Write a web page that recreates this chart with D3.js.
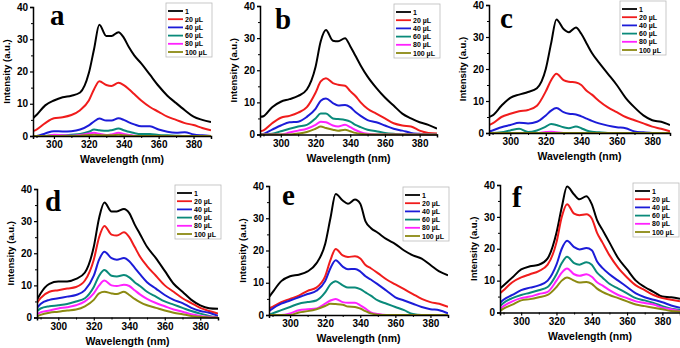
<!DOCTYPE html>
<html><head><meta charset="utf-8">
<script src="https://cdn.jsdelivr.net/npm/d3@7"></script>
<style>html,body{margin:0;padding:0;background:#fff;}svg{display:block;}</style>
</head><body>
<script>
// ---- DATA ----
const wl = [288,290,295,300,305,310,315,320,323,326,330,333,337,340,343,346,350,355,360,365,370,375,380,385,390];
const seriesNames = ["1","20 µL","40 µL","60 µL","80 µL","100 µL"];
const panelLetters = ["a","b","c","d","e","f"];
const xTicks = [300,320,340,360,380];
const yTicks = [0,10,20,30,40];

const panelA = [
  [5.5,6.5,9.5,11,12,12.5,13.5,19.5,27,34.5,31,31,32.2,30.5,27.5,25,22.5,19,15.5,12.5,10.2,8,6,5,4.3],
  [1.5,2,4,5.5,5.8,6.5,8,11,14.5,17,15.8,15.5,16.5,15.8,14.5,13,11,9,7.5,6,5,4,3.4,2.5,1.8],
  [0,0,0.8,1.5,1.4,1.5,2,3.3,4.5,5.4,4.8,4.8,5.5,5,4.2,3.6,3,3,2,1.3,1,1.2,0.5,0.2,0],
  [0,0,0,0.3,0.2,0.4,0.6,1.3,2,1.8,1.6,1.8,2.3,1.8,1.3,0.9,0.6,0.6,0.3,0.2,0.1,0,0,0,0],
  [0,0,0,0.4,0.2,0.1,0.3,0.8,1,0.7,0.3,0.5,1,0.6,0.3,0.1,0,0,0,0,0,0,0,0,0],
  [0,0,0,0,0,0,0.1,0.3,0.4,0.3,0.2,0.2,0.4,0.2,0.1,0,0,0,0,0,0,0,0,0,0]
];
const panelB = [
  [5.5,5.7,8.5,10.2,11,12,14,21,29,32.5,29.2,29,30,27.5,24.5,21.5,18,14.5,11.5,9,6.5,5,3.8,3,1.8],
  [1,1.3,3.5,5.2,5.8,6.8,8.5,13,16.5,17.5,16,15.5,15.2,13.5,12,10,8,6.5,5,3.5,2.8,2.5,1.2,0.5,0.3],
  [0,0.2,1.5,2.8,3.8,4,5.5,8,10.5,11.2,9.8,9,9.2,8.5,7,5.8,4.5,3.8,2.8,1.8,1.2,0.5,0.2,0,0],
  [0,0,0.2,1,1.8,2.5,3,5,6.5,6.5,5,4.8,4.5,4,3,2.3,1.5,1,0.5,0.2,0,0,0,0,0],
  [0,0,0,0,0.6,1.2,1.8,3,4,3.8,2.8,2.5,3,2.3,1.4,0.7,0.2,0,0,0,0,0,0,0,0],
  [0,0,0,0,0,0.3,0.8,1.8,2.5,2,1.5,1.2,1.5,1,0.5,0.2,0,0,0,0,0,0,0,0,0]
];
const panelC = [
  [5,5.5,8.5,11,12,12.8,14,20,28,35.5,32.5,31.5,33,31,28,25,22,18.5,15,11,8,5.5,4,3.5,2.5],
  [2.5,3,5,6,6.8,7.2,8.5,13,16.5,18.5,16.5,16,15.8,15,13.2,12,10,8,6.5,5,4,3,2,1.3,0.5],
  [0.5,0.8,1.8,2.5,3.2,3,3.5,5.5,7,7.8,6.5,6,5.8,5.2,4.5,3.8,3,2.3,1.8,1.5,0.5,0.2,0,0,0],
  [0,0,0.2,0.8,1.3,0.3,0.8,2,2.8,2.5,1.8,1.5,2,1.5,0.8,0.4,0.2,0,0,0,0,0,0,0,0],
  [0,0,0,0,0,0,0,0.3,0.4,0.2,0,0,0,0,0,0,0,0,0,0,0,0,0,0,0],
  [0,0,0,0,0,0,0,0,0,0,0,0,0,0,0,0,0,0,0,0,0,0,0,0,0]
];
const panelD = [
  [5.5,7.5,10.5,11.2,11.2,12,14,22,31,35.8,33,33,33.8,32.5,29,26,22,18.5,14.5,10.5,8,5.5,3.8,2.9,2.7],
  [4.5,6,8,8.5,9,9.5,11.5,18,25,28.5,25.8,25.5,26.5,25,22,19,16,13,10,8,6,4.5,3,2,1.2],
  [3,4.2,5.5,6,6.5,7,8.5,13,18,20.5,18.5,18,18.5,17.5,15.5,13.5,11,9,7,5.5,4.5,3,2,1.5,0.5],
  [2,2.8,3.5,3.8,4.2,5,6,9.5,13,14.8,13,12.8,13.2,12.5,11,9.8,8,6.5,5,4,3,2,1.2,0.5,0],
  [1,1.6,2.2,2.8,3.2,3.8,5,7.5,10,11.5,10,9.8,10.2,9.8,8.5,7.2,5.8,4.5,3.5,2.5,1.8,1,0.5,0.2,0],
  [0.3,0.8,1.5,1.8,2.2,2.5,3.5,5.5,7.5,8,7.5,7.3,8,7,5.8,4.8,3.8,3,2.2,1.5,1,0.5,0.2,0,0]
];
const panelE = [
  [5.5,7,10.5,12,12.5,13.5,16,22,30,37.5,35.5,34.5,35.8,34.5,29,27,25.5,23.5,22,20,18.5,17.5,15.5,13.5,12.3],
  [2,2.5,4,5,6,7.5,8.5,12,17,20.5,18.5,18,18.2,17.5,15.5,14.5,13,11,9.5,8,6.5,5,4,3.5,2.5],
  [1.2,2,3.5,4.5,5.5,6.5,7.5,10.5,14.5,17,15,14.2,14.3,13.5,12,11,9.5,7.5,5.5,4.5,3.5,2.5,1.8,1.5,0.5],
  [0,0.5,1.5,2.5,3.5,4,4.5,7,9.5,10.5,9.2,8.5,8.5,8,7,6,4.5,3.5,2.5,1.5,0.3,0,0,0,0],
  [0,0,0,0.5,1.5,1.8,2,3.5,4.5,5,4,3.8,3.8,3,2,0.8,0.3,0,0,0,0,0,0,0,0],
  [0,0,0,0,0.8,1.2,1.8,2.8,3.5,3.4,3.2,2.6,2.5,2,1.2,0.5,0.1,0,0,0,0,0,0,0,0]
];
const panelF = [
  [7.5,8.5,11,13.5,14.5,15,17,25,33,39.5,37,35.5,36.5,34,29,26,22,17,13.5,10,8,6.5,5,4.8,4.3],
  [6,7,9.5,11,12,13,15,22,30,34,31,30.5,30.8,29.5,25,22,18,14,11,8.5,7,5.5,4.5,4,3.5],
  [3,4,5.5,7,7.8,8.5,10,15,20,22.5,20.5,19.8,20.2,19.5,16,14,12,10,8,6,4.8,4,3.2,2.2,1.5],
  [2,3,4.5,5.5,6.2,7,8,12,15.5,17.5,15.5,15,15.8,15,12.5,11,9,7.5,6,4.5,3.8,3,2,1.2,0.8],
  [1.2,2,3.5,4.5,5,5.8,6.5,10,12.5,13.8,12,11.5,12,11.2,9.5,8.5,7,5.5,4.5,3.5,3,2.5,1.5,1,0.5],
  [0.5,1.2,2.5,3.8,4.2,4.8,5.5,8,10,11,10,9.4,9.6,9,7.5,6.5,5.5,4.5,3.5,2.5,2,1.5,1,0.5,0.3]
];
const allPanels = [panelA, panelB, panelC, panelD, panelE, panelF];

// ---- STYLE / LAYOUT ----
const colors = ["#000000","#f01c1c","#1c1cd8","#0a8a7a","#ff22ff","#8c8a12"];
const layout = [
  {x0:33, x1:211, y0:136, y1:7,   letter:[50,25],  leg:[166,3]},
  {x0:260,x1:437, y0:134.5,y1:6,  letter:[275,29], leg:[394,4]},
  {x0:489,x1:670, y0:133, y1:5,   letter:[500,28], leg:[620,1]},
  {x0:37, x1:218, y0:317.5,y1:189,letter:[45,211], leg:[175,185]},
  {x0:269,x1:448, y0:315, y1:186, letter:[282,205],leg:[403,187]},
  {x0:500,x1:680, y0:312.5,y1:185,letter:[512,207],leg:[633,183]}
];

const W = 680, H = 348;
const svg = d3.select("body").append("svg").attr("width", W).attr("height", H);
const font = "'Liberation Sans', Arial, sans-serif";

allPanels.forEach((panel, pi) => {
  const L = layout[pi];
  const x = d3.scaleLinear().domain([288, 390]).range([L.x0, L.x1]);
  const y = d3.scaleLinear().domain([0, 40]).range([L.y0, L.y1]);
  const g = svg.append("g");

  const clipId = "clip" + pi;
  svg.append("clipPath").attr("id", clipId).append("rect")
    .attr("x", L.x0).attr("y", L.y1 - 2).attr("width", L.x1 - L.x0).attr("height", L.y0 - L.y1 + 3);

  const line = d3.line().x((d, i) => x(wl[i])).y(d => y(d)).curve(d3.curveMonotoneX);
  panel.forEach((s, si) => {
    g.append("path").datum(s).attr("d", line)
      .attr("fill", "none").attr("stroke", colors[si]).attr("stroke-width", 2)
      .attr("stroke-linejoin", "round").attr("clip-path", `url(#${clipId})`);
  });

  // axes
  const xAxis = d3.axisBottom(x).tickValues(xTicks).tickSize(3).tickPadding(2).tickFormat(d3.format("d"));
  const xMinor = d3.axisBottom(x).tickValues([290,310,330,350,370,390]).tickSize(2).tickFormat("");
  const yAxis = d3.axisLeft(y).tickValues(yTicks).tickSize(3).tickPadding(2);
  const yMinor = d3.axisLeft(y).tickValues([5,15,25,35]).tickSize(2).tickFormat("");

  const gx = g.append("g").attr("transform", `translate(0,${L.y0})`).call(xAxis);
  g.append("g").attr("transform", `translate(0,${L.y0})`).call(xMinor).select(".domain").remove();
  const gy = g.append("g").attr("transform", `translate(${L.x0},0)`).call(yAxis);
  g.append("g").attr("transform", `translate(${L.x0},0)`).call(yMinor).select(".domain").remove();
  [gx, gy].forEach(a => {
    a.select(".domain").attr("stroke", "#000").attr("stroke-width", 1.5);
    a.selectAll(".tick line").attr("stroke", "#000").attr("stroke-width", 1.2);
    a.selectAll("text").attr("font-family", font).attr("font-weight", "bold")
      .attr("font-size", 10).attr("fill", "#000");
  });
  g.selectAll(".tick line").attr("stroke", "#000");

  g.append("text").attr("x", (L.x0 + L.x1) / 2).attr("y", L.y0 + 27)
    .attr("text-anchor", "middle").attr("font-family", font).attr("font-weight", "bold")
    .attr("font-size", 10.5).text("Wavelength (nm)");
  g.append("text").attr("transform", `translate(${L.x0 - 23},${(L.y0 + L.y1) / 2}) rotate(-90)`)
    .attr("text-anchor", "middle").attr("font-family", font).attr("font-weight", "bold")
    .attr("font-size", 9.5).text("Intensity (a.u.)");

  // panel letter
  g.append("text").attr("x", L.letter[0]).attr("y", L.letter[1])
    .attr("font-family", "'Liberation Serif', 'Times New Roman', serif").attr("font-weight", "bold")
    .attr("font-size", 29).text(panelLetters[pi]);

  // legend
  const lg = g.append("g").attr("transform", `translate(${L.leg[0]},${L.leg[1]})`);
  lg.append("rect").attr("x", 0).attr("y", 0).attr("width", 46).attr("height", 54)
    .attr("fill", "#fff").attr("stroke", "#bbb").attr("stroke-width", 0.8);
  seriesNames.forEach((n, si) => {
    const yy = 8 + si * 8.2;
    lg.append("line").attr("x1", 2).attr("x2", 17).attr("y1", yy).attr("y2", yy)
      .attr("stroke", colors[si]).attr("stroke-width", 1.8);
    lg.append("text").attr("x", 19).attr("y", yy + 2.5).attr("font-family", font)
      .attr("font-weight", "bold").attr("font-size", 7).text(n);
  });
});
</script>
</body></html>
